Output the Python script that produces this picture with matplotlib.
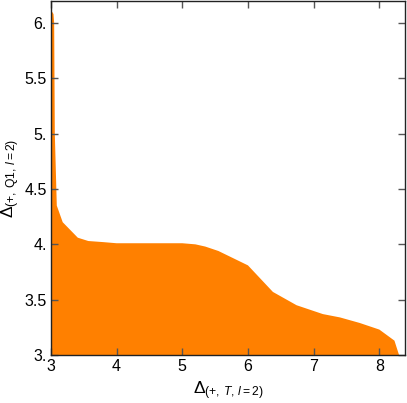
import matplotlib
matplotlib.use("Agg")
import matplotlib.pyplot as plt
from matplotlib.ticker import FixedLocator, FixedFormatter

plt.rcParams['font.family'] = ['Liberation Sans', 'DejaVu Sans']
plt.rcParams['mathtext.fontset'] = 'custom'
plt.rcParams['mathtext.rm'] = 'Liberation Sans'
plt.rcParams['mathtext.it'] = 'Liberation Sans:italic'

# ───── Data (boundary of the allowed region) ─────
delta_T = [3.00, 3.00, 3.02, 3.04, 3.05, 3.06, 3.09, 3.18, 3.41, 3.57, 3.80,
           4.00, 4.50, 5.00, 5.20, 5.35, 5.55, 6.00, 6.38, 6.74, 7.14, 7.40,
           7.70, 8.00, 8.23, 8.30]
delta_Q1 = [3.00, 6.06, 6.10, 6.08, 6.00, 5.00, 4.35, 4.20, 4.06, 4.03, 4.02,
            4.01, 4.01, 4.01, 4.00, 3.98, 3.94, 3.81, 3.57, 3.45, 3.37, 3.34,
            3.29, 3.23, 3.13, 3.00]

x_ticks = [3, 4, 5, 6, 7, 8]
y_ticks = [3.0, 3.5, 4.0, 4.5, 5.0, 5.5, 6.0]
y_labels = ['3.', '3.5', '4.', '4.5', '5.', '5.5', '6.']

fig = plt.figure(figsize=(4.07, 4.03), dpi=100)
ax = fig.add_axes([0.125, 0.119, 0.870, 0.879])

ax.fill(delta_T, delta_Q1, color='#FF8000', lw=0)

ax.set_xlim(3, 8.39)
ax.set_ylim(3, 6.2)

ax.xaxis.set_major_locator(FixedLocator(x_ticks))
ax.yaxis.set_major_locator(FixedLocator(y_ticks))
ax.yaxis.set_major_formatter(FixedFormatter(y_labels))

ax.tick_params(direction='in', length=5, width=1, color='#555555',
               top=True, right=True, labelsize=11.5, pad=3)
for s in ax.spines.values():
    s.set_color('#222222')
    s.set_linewidth(1)

ax.set_xlabel(r'$\Delta_{(+,\,T,\,l=2)}$', fontsize=12.5, labelpad=4)
ax.set_ylabel(r'$\Delta_{(+,\,\mathrm{Q1},\,l=2)}$', fontsize=12.5, labelpad=2)

fig.savefig('out.png', dpi=100)
